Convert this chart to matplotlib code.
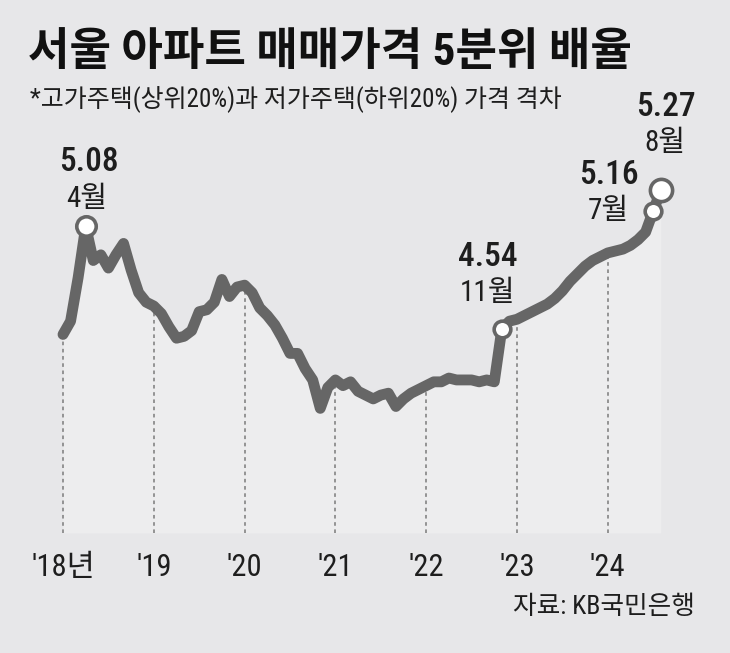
import matplotlib
matplotlib.use("Agg")
import matplotlib.pyplot as plt
from matplotlib import font_manager as fm

# KB 5분위 배율, 월별 (2018.1 ~ 2024.8)
ratio = [
    4.51, 4.58, 4.81, 5.08, 4.90, 4.93, 4.86, 4.93, 4.99, 4.85, 4.73, 4.68,  # 2018
    4.66, 4.62, 4.55, 4.49, 4.50, 4.53, 4.63, 4.64, 4.68, 4.80, 4.71, 4.76,  # 2019
    4.77, 4.73, 4.65, 4.61, 4.56, 4.49, 4.41, 4.41, 4.33, 4.27, 4.12, 4.23,  # 2020
    4.27, 4.24, 4.26, 4.21, 4.19, 4.17, 4.19, 4.20, 4.13, 4.17, 4.20, 4.22,  # 2021
    4.24, 4.26, 4.26, 4.28, 4.27, 4.27, 4.27, 4.26, 4.27, 4.26, 4.54, 4.58,  # 2022
    4.59, 4.61, 4.63, 4.65, 4.67, 4.70, 4.74, 4.79, 4.83, 4.87, 4.90, 4.92,  # 2023
    4.94, 4.95, 4.96, 4.98, 5.01, 5.05, 5.16, 5.27,                          # 2024
]
months = list(range(len(ratio)))

year_idx = [0, 12, 24, 36, 48, 60, 72]
year_labels = ["'18년", "'19", "'20", "'21", "'22", "'23", "'24"]

hl_idx = [3, 58, 78, 79]
hl_value = ["5.08", "4.54", "5.16", "5.27"]
hl_month = ["4월", "11월", "7월", "8월"]

title = "서울 아파트 매매가격 5분위 배율"
subtitle = "*고가주택(상위20%)과 저가주택(하위20%) 가격 격차"
source = "자료: KB국민은행"

BG = "#e7e7e9"
LINE = "#666666"
INK = "#1e1e1e"

names = {f.name for f in fm.fontManager.ttflist}
narrow = [n for n in ["Liberation Sans Narrow", "Roboto Condensed"] if n in names]
FAM = narrow[:1] + ["Noto Sans CJK KR", "DejaVu Sans"]
plt.rcParams["font.family"] = FAM

fig = plt.figure(figsize=(7.3, 6.53), dpi=100, facecolor=BG)
ax = fig.add_axes([0, 0.1838, 1, 0.8162])
ax.set_facecolor(BG)
ax.set_xlim(-8.326, 88.15)
ax.set_ylim(3.4628, 6.274)
ax.axis("off")

base = ax.get_ylim()[0]
ax.fill_between(months, ratio, base, color="#ededee", lw=0, zorder=1)
ax.vlines(year_idx, base, [ratio[i] for i in year_idx], colors="#8c8c8c",
          linestyles=(0, (2, 2)), lw=1.3, zorder=2)
ax.plot(months, ratio, color=LINE, lw=7.8, solid_joinstyle="round",
        solid_capstyle="round", zorder=3)

msize = [14, 12, 12, 16]
for i, ms in zip(hl_idx, msize):
    ax.plot(months[i], ratio[i], "o", ms=ms, mfc="white", mec=LINE, mew=2.6, zorder=4)

# label offsets (points) relative to each marker
val_off = [(2, 46), (-10, 52), (-32, 26), (4, 60)]
mon_off = [(1, 20), (-10, 26), (-32, 0), (3, 34)]
for k, i in enumerate(hl_idx):
    ax.annotate(hl_value[k], (months[i], ratio[i]), xytext=val_off[k],
                textcoords="offset points", ha="center", va="center",
                fontsize=24, color=INK, fontweight="medium")
    ax.annotate(hl_month[k], (months[i], ratio[i]), xytext=mon_off[k],
                textcoords="offset points", ha="center", va="center",
                fontsize=21, color=INK)

for x, lab in zip(year_idx, year_labels):
    ax.text(x, -0.064, lab, transform=ax.get_xaxis_transform(), ha="center",
            va="center", fontsize=22, color=INK)

fig.text(28 / 730, 1 - 53 / 653, title, ha="left", va="center", fontsize=32.5,
         fontweight="bold", color="#111111")
fig.text(30 / 730, 1 - 100 / 653, subtitle, ha="left", va="center",
         fontsize=18, color=INK)
fig.text(695 / 730, 1 - 607 / 653, source, ha="right", va="center",
         fontsize=18.5, color=INK)

fig.savefig("out.png", dpi=100, facecolor=BG)
